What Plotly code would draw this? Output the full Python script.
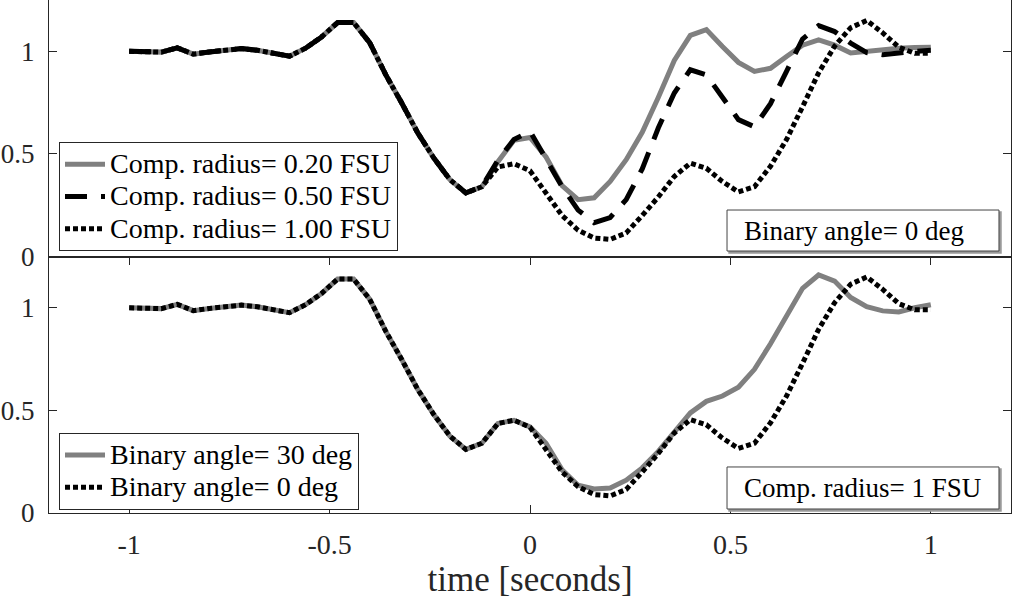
import plotly.graph_objects as go
from plotly.subplots import make_subplots

# time axis (seconds), sampled every 0.04 s
time_s = [-1.00, -0.96, -0.92, -0.88, -0.84, -0.80, -0.76, -0.72, -0.68, -0.64,
          -0.60, -0.56, -0.52, -0.48, -0.44, -0.40, -0.36, -0.32, -0.28, -0.24,
          -0.20, -0.16, -0.12, -0.08, -0.04, 0.00, 0.04, 0.08, 0.12, 0.16,
          0.20, 0.24, 0.28, 0.32, 0.36, 0.40, 0.44, 0.48, 0.52, 0.56,
          0.60, 0.64, 0.68, 0.72, 0.76, 0.80, 0.84, 0.88, 0.92, 0.96, 1.00]

# top panel: binary angle 0 deg, different companion radii
radius_020 = [1.000, 0.995, 0.996, 1.017, 0.986, 0.997, 1.008, 1.013, 1.005, 0.990,
              0.976, 1.015, 1.070, 1.140, 1.140, 1.042, 0.886, 0.748, 0.602, 0.480,
              0.375, 0.310, 0.340, 0.462, 0.566, 0.580, 0.485, 0.345, 0.277, 0.286,
              0.366, 0.472, 0.605, 0.775, 0.955, 1.078, 1.106, 1.023, 0.946, 0.902,
              0.917, 0.975, 1.030, 1.056, 1.030, 0.992, 1.000, 1.010, 1.015, 1.018, 1.020]
radius_050 = [1.000, 0.995, 0.996, 1.017, 0.986, 0.997, 1.008, 1.013, 1.005, 0.990,
              0.976, 1.015, 1.070, 1.140, 1.140, 1.042, 0.886, 0.748, 0.602, 0.480,
              0.375, 0.310, 0.340, 0.470, 0.570, 0.610, 0.480, 0.340, 0.226, 0.165,
              0.190, 0.277, 0.427, 0.626, 0.797, 0.910, 0.885, 0.775, 0.667, 0.632,
              0.745, 0.902, 1.060, 1.125, 1.096, 1.040, 0.994, 0.983, 0.994, 1.000, 1.005]
radius_100 = [1.000, 0.995, 0.996, 1.017, 0.986, 0.997, 1.008, 1.013, 1.005, 0.990,
              0.976, 1.015, 1.070, 1.140, 1.140, 1.042, 0.886, 0.748, 0.602, 0.480,
              0.375, 0.310, 0.340, 0.436, 0.452, 0.418, 0.310, 0.200, 0.128, 0.090,
              0.083, 0.115, 0.200, 0.290, 0.390, 0.455, 0.430, 0.365, 0.315, 0.340,
              0.440, 0.570, 0.730, 0.895, 1.025, 1.115, 1.150, 1.090, 1.020, 0.990, 0.990]

# bottom panel: companion radius 1 FSU, different binary angles
angle_30 = [1.000, 0.995, 0.996, 1.017, 0.986, 0.997, 1.008, 1.013, 1.005, 0.990,
            0.976, 1.015, 1.070, 1.140, 1.140, 1.042, 0.886, 0.748, 0.602, 0.480,
            0.375, 0.310, 0.340, 0.436, 0.452, 0.420, 0.340, 0.210, 0.135, 0.117,
            0.122, 0.160, 0.220, 0.300, 0.390, 0.488, 0.544, 0.570, 0.613, 0.700,
            0.825, 0.960, 1.095, 1.160, 1.130, 1.050, 1.005, 0.985, 0.980, 1.000, 1.015]
angle_0 = radius_100

top_names = ["Comp. radius= 0.20 FSU", "Comp. radius= 0.50 FSU", "Comp. radius= 1.00 FSU"]
bottom_names = ["Binary angle= 30 deg", "Binary angle= 0 deg"]
y_ticks = [0, 0.5, 1]
y_ticktext = ["0", "0.5", "1"]
x_ticks = [-1, -0.5, 0, 0.5, 1]
x_ticktext = ["-1", "-0.5", "0", "0.5", "1"]

FONT = "Liberation Serif"
INK = "#262626"
GRAY = "#808080"
DOT = "5px,3px"
DASH = "22px,14px"


def big(name):
    # legend rows are spaced from the legend font size; draw the text a bit larger
    return '<span style="font-size:28px">' + name + "</span>"


fig = make_subplots(rows=2, cols=1, shared_xaxes=True, vertical_spacing=0)

fig.add_trace(go.Scatter(x=time_s, y=radius_020, mode="lines", name=big(top_names[0]),
                         line=dict(color=GRAY, width=5), legend="legend"), row=1, col=1)
fig.add_trace(go.Scatter(x=time_s, y=radius_050, mode="lines", name=big(top_names[1]),
                         line=dict(color="black", width=5, dash=DASH), legend="legend"), row=1, col=1)
fig.add_trace(go.Scatter(x=time_s, y=radius_100, mode="lines", name=big(top_names[2]),
                         line=dict(color="black", width=5, dash=DOT), legend="legend"), row=1, col=1)

fig.add_trace(go.Scatter(x=time_s, y=angle_30, mode="lines", name=big(bottom_names[0]),
                         line=dict(color=GRAY, width=5), legend="legend2"), row=2, col=1)
fig.add_trace(go.Scatter(x=time_s, y=angle_0, mode="lines", name=big(bottom_names[1]),
                         line=dict(color="black", width=5, dash=DOT), legend="legend2"), row=2, col=1)

axis_common = dict(showline=True, linecolor=INK, linewidth=1, mirror="ticks",
                   showgrid=False, zeroline=False, ticks="inside", ticklen=8,
                   tickcolor=INK, automargin=False)

fig.update_yaxes(range=[0, 1.25], tickvals=y_ticks, ticktext=y_ticktext,
                 ticklabelstandoff=8, tickfont=dict(family=FONT, size=27, color=INK),
                 **axis_common)
fig.update_xaxes(range=[-1.2, 1.2], tickvals=x_ticks, ticktext=x_ticktext,
                 ticklabelstandoff=6, tickfont=dict(family=FONT, size=28, color=INK),
                 **axis_common)
fig.update_xaxes(ticks="", row=1, col=1)
fig.update_xaxes(title=dict(text="time [seconds]", font=dict(family=FONT, size=35, color=INK),
                            standoff=7), row=2, col=1)

legend_style = dict(bgcolor="white", bordercolor=INK, borderwidth=1,
                    font=dict(family=FONT, size=22.5, color="black"),
                    xanchor="left", yanchor="top", tracegroupgap=0, itemwidth=40)

# boxed text labels in the lower right corner of each panel
box_labels = ["Binary angle= 0 deg", "Comp. radius= 1 FSU"]
box_y = [(0.5107, 0.5906), (0.0078, 0.0897)]
shapes = []
annotations = []
for label, (y0, y1) in zip(box_labels, box_y):
    # light drop shadow on the right/bottom edge, then the box itself
    shapes.append(dict(type="rect", xref="paper", yref="paper", x0=0.7069, x1=0.9896,
                       y0=y0 - 0.004, y1=y1 - 0.004, line=dict(color="#9a9a9a", width=1.5),
                       fillcolor="#9a9a9a"))
    shapes.append(dict(type="rect", xref="paper", yref="paper", x0=0.7048, x1=0.9875,
                       y0=y0, y1=y1, line=dict(color="#444444", width=1), fillcolor="white"))
    annotations.append(dict(text=label, xref="paper", yref="paper", x=0.7204, y=(y0 + y1) / 2,
                            xanchor="left", yanchor="middle", showarrow=False,
                            font=dict(family=FONT, size=27, color="black")))

fig.update_layout(
    width=1012, height=601,
    margin=dict(l=49, r=1, t=0, b=88),
    plot_bgcolor="white", paper_bgcolor="white",
    legend=dict(x=0.0104, y=0.723, **legend_style),
    legend2=dict(x=0.0104, y=0.156, **legend_style),
    shapes=shapes,
    annotations=annotations,
)

fig.write_html("out.html", config={"displayModeBar": False},
               post_script="document.body.style.margin='0';document.body.style.overflow='hidden';")
